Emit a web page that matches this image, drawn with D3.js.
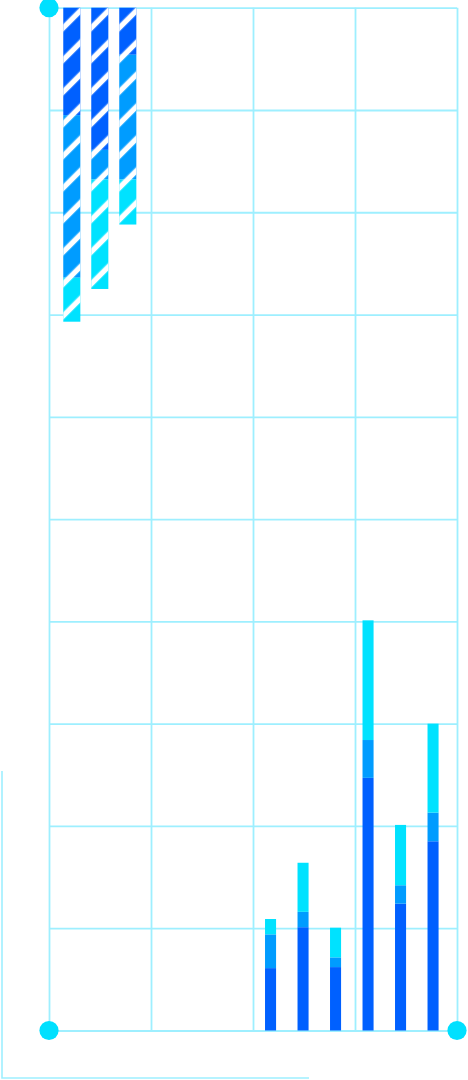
<!DOCTYPE html>
<html>
<head>
<meta charset="utf-8">
<script src="https://cdn.jsdelivr.net/npm/d3@7"></script>
<style>
  html, body { margin: 0; padding: 0; background: #fff; }
  svg { display: block; }
</style>
</head>
<body>
<svg id="chart" width="468" height="1080"></svg>
<script>
// top group, bars hang down from the top edge
const topCategories = ["A", "B", "C"]
const topDark = [10.5, 13.9, 4.6]
const topMid = [15.9, 2.9, 12.2]
const topCyan = [4.3, 10.7, 4.4]

// bottom group, bars grow up from the base
const bottomCategories = ["D", "E", "F", "G", "H", "I"]
const bottomDark = [6.1, 10.1, 6.2, 24.7, 12.4, 18.5]
const bottomMid = [3.3, 1.5, 0.95, 3.7, 1.8, 2.8]
const bottomCyan = [1.5, 4.8, 2.9, 11.7, 5.9, 8.7]

const yDomain = [0, 100]
const columns = [0, 4]

const keys = ["dark", "mid", "cyan"]
const colors = {dark: "#0060ff", mid: "#009cff", cyan: "#00e2ff"}
const gridColor = "#9eefff"

const svg = d3.select("#chart")
const margin = {top: 7.7, left: 49}
const width = 408
const height = 1022.8

const defs = svg.append("defs")
defs.append("pattern")
    .attr("id", "hatch")
    .attr("patternUnits", "userSpaceOnUse")
    .attr("width", 22.63)
    .attr("height", 10)
    .attr("patternTransform", "rotate(45)")
  .append("rect")
    .attr("x", 11.5)
    .attr("width", 5.4)
    .attr("height", 10)
    .attr("fill", "#fff")

// decorative frame at the bottom left
svg.append("path")
    .attr("d", "M2,771V1078H309")
    .attr("fill", "none")
    .attr("stroke", gridColor)
    .attr("stroke-width", 1.6)

const g = svg.append("g").attr("transform", `translate(${margin.left},${margin.top})`)

const yUp = d3.scaleLinear().domain(yDomain).range([height, 0])
const yDown = d3.scaleLinear().domain(yDomain).range([0, height])
const xGrid = d3.scaleLinear().domain(columns).range([0, width])

const xTop = d3.scaleBand().domain(topCategories).range([8.8, 92.8])
    .paddingInner(0.39).paddingOuter(0.195)
const xBottom = d3.scaleBand().domain(bottomCategories).range([205.3, 400.3])
    .paddingInner(0.66).paddingOuter(0.33)

// grid
g.append("g")
    .call(d3.axisLeft(yUp).ticks(10).tickSize(-width).tickFormat(""))
g.append("g")
    .attr("transform", "translate(0," + height + ")")
    .call(d3.axisBottom(xGrid).ticks(4).tickSize(-height).tickFormat(""))
g.selectAll(".domain").remove()
g.selectAll(".tick line")
    .attr("stroke", gridColor)
    .attr("stroke-width", 1.8)

const stack = d3.stack().keys(keys)

const topRows = topCategories.map((c, i) => ({cat: c, dark: topDark[i], mid: topMid[i], cyan: topCyan[i]}))
const bottomRows = bottomCategories.map((c, i) => ({cat: c, dark: bottomDark[i], mid: bottomMid[i], cyan: bottomCyan[i]}))

// bottom stacked bars
stack(bottomRows).forEach(layer => {
    g.append("g").selectAll("rect")
        .data(layer)
        .enter().append("rect")
        .attr("x", d => xBottom(d.data.cat))
        .attr("y", d => yUp(d[1]))
        .attr("width", xBottom.bandwidth())
        .attr("height", d => yUp(d[0]) - yUp(d[1]))
        .attr("fill", colors[layer.key])
})

// top stacked bars, each with its own hatch anchored at the bar
const topLayers = stack(topRows)
const topBars = g.selectAll(".topbar")
    .data(topRows)
    .enter().append("g")
    .attr("class", "topbar")
    .attr("transform", d => "translate(" + xTop(d.cat) + ",0)")

topBars.each(function (row, i) {
    const bar = d3.select(this)
    topLayers.forEach(layer => {
        const d = layer[i]
        bar.append("rect")
            .attr("y", yDown(d[0]))
            .attr("width", xTop.bandwidth())
            .attr("height", yDown(d[1]) - yDown(d[0]))
            .attr("fill", colors[layer.key])
    })
    const total = topLayers[topLayers.length - 1][i][1]
    bar.append("rect")
        .attr("width", xTop.bandwidth())
        .attr("height", yDown(total))
        .attr("fill", "url(#hatch)")
})

// corner dots
const dots = [[columns[0], yDomain[1]], [columns[0], yDomain[0]], [columns[1], yDomain[0]]]
g.selectAll(".dot")
    .data(dots)
    .enter().append("circle")
    .attr("class", "dot")
    .attr("cx", d => xGrid(d[0]))
    .attr("cy", d => yUp(d[1]))
    .attr("r", 9.6)
    .attr("fill", "#00e0ff")
</script>
</body>
</html>
